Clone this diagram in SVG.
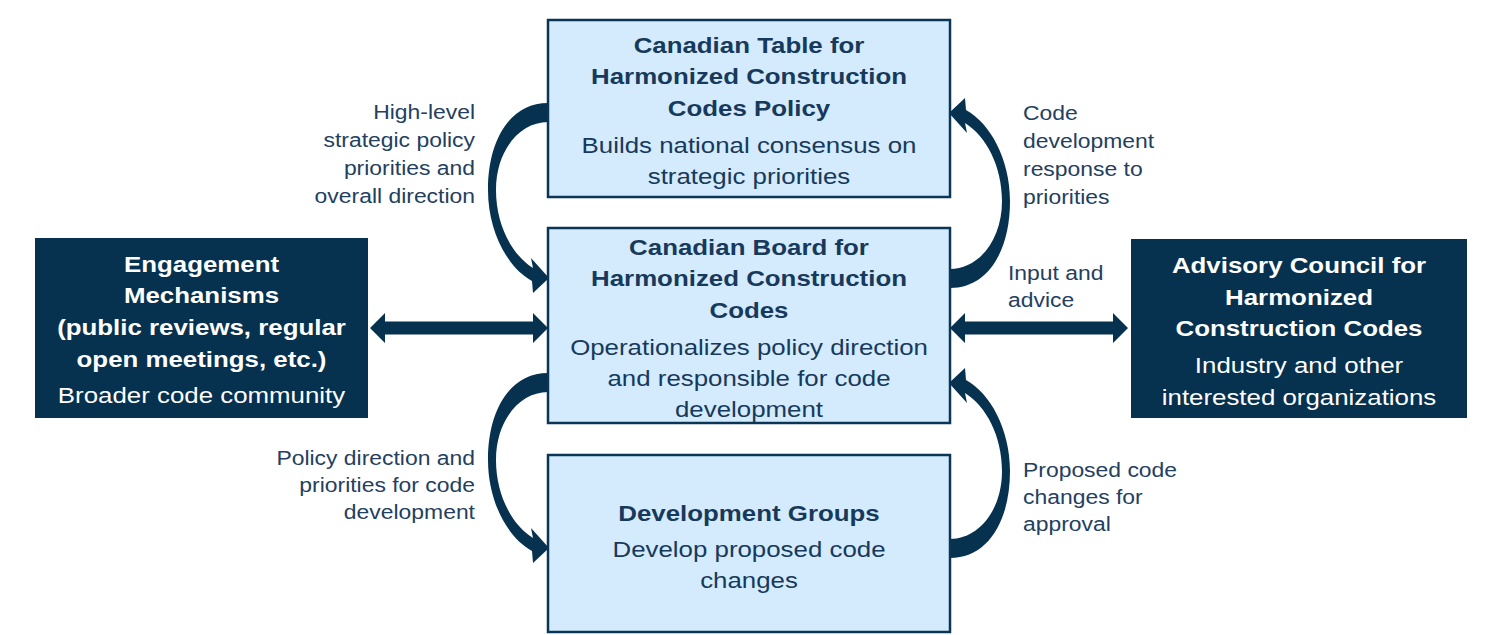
<svg xmlns="http://www.w3.org/2000/svg" width="1486" height="635" viewBox="0 0 1486 635">
<style>
.lb{fill:#d3ebfc;stroke:#0b3556;stroke-width:2.5}
.db{fill:#06314f}
.t{font-family:"Liberation Sans",Arial,sans-serif;font-size:22px;text-anchor:middle}
.b{font-weight:bold}
.dk{fill:#17395b}
.wh{fill:#ffffff}
.lab{font-family:"Liberation Sans",Arial,sans-serif;font-size:19.5px;fill:#24405f}
.arr{fill:#06314f}
</style>
<defs>
<path id="curv" d="M548,103 C510,103 488,140 488,190 C488,232 508,268 532,281 L533,293 L549,278 L531,258 L533,268 C512,255 496,225 496,190 C496,150 520,122 548,122 Z"/>
</defs>
<rect width="1486" height="635" fill="#ffffff"/>
<g id="connectors">
<use href="#curv" class="arr"/>
<use href="#curv" class="arr" transform="rotate(180 749 195.5)"/>
<use href="#curv" class="arr" transform="translate(0 270)"/>
<use href="#curv" class="arr" transform="translate(0 270) rotate(180 749 195.5)"/>
<path class="arr" d="M370,328 L385,313 L385,321.5 L533,321.5 L533,313 L548,328 L533,343 L533,334.5 L385,334.5 L385,343 Z"/>
<path class="arr" d="M950,328 L965,313 L965,321.5 L1113,321.5 L1113,313 L1128,328 L1113,343 L1113,334.5 L965,334.5 L965,343 Z"/>
<text class="lab" text-anchor="end" transform="translate(475 0) scale(1.175 1)"><tspan x="0" y="119">High-level</tspan><tspan x="0" y="147">strategic policy</tspan><tspan x="0" y="175">priorities and</tspan><tspan x="0" y="203">overall direction</tspan></text>
<text class="lab" transform="translate(1023 0) scale(1.175 1)"><tspan x="0" y="120">Code</tspan><tspan x="0" y="148">development</tspan><tspan x="0" y="176">response to</tspan><tspan x="0" y="204">priorities</tspan></text>
<text class="lab" transform="translate(1008 0) scale(1.175 1)"><tspan x="0" y="280">Input and</tspan><tspan x="0" y="307">advice</tspan></text>
<text class="lab" text-anchor="end" transform="translate(475 0) scale(1.175 1)"><tspan x="0" y="465">Policy direction and</tspan><tspan x="0" y="492">priorities for code</tspan><tspan x="0" y="519">development</tspan></text>
<text class="lab" transform="translate(1023 0) scale(1.175 1)"><tspan x="0" y="477">Proposed code</tspan><tspan x="0" y="504">changes for</tspan><tspan x="0" y="531">approval</tspan></text>
</g>
<g id="table">
<rect class="lb" x="548" y="20" width="402" height="177"/>
<text class="t dk" transform="translate(749 0) scale(1.175 1)"><tspan class="b" x="0" y="53">Canadian Table for</tspan><tspan class="b" x="0" y="84">Harmonized Construction</tspan><tspan class="b" x="0" y="116">Codes Policy</tspan><tspan x="0" y="153">Builds national consensus on</tspan><tspan x="0" y="184">strategic priorities</tspan></text>
</g>
<g id="board">
<rect class="lb" x="548" y="228" width="402" height="195"/>
<text class="t dk" transform="translate(749 0) scale(1.175 1)"><tspan class="b" x="0" y="255">Canadian Board for</tspan><tspan class="b" x="0" y="286">Harmonized Construction</tspan><tspan class="b" x="0" y="318">Codes</tspan><tspan x="0" y="355">Operationalizes policy direction</tspan><tspan x="0" y="386">and responsible for code</tspan><tspan x="0" y="417">development</tspan></text>
</g>
<g id="devgroups">
<rect class="lb" x="548" y="455" width="402" height="177"/>
<text class="t dk" transform="translate(749 0) scale(1.175 1)"><tspan class="b" x="0" y="521">Development Groups</tspan><tspan x="0" y="557">Develop proposed code</tspan><tspan x="0" y="588">changes</tspan></text>
</g>
<g id="engagement">
<rect class="db" x="35" y="238" width="333" height="180"/>
<text class="t wh" transform="translate(201.5 0) scale(1.175 1)"><tspan class="b" x="0" y="272">Engagement</tspan><tspan class="b" x="0" y="303">Mechanisms</tspan><tspan class="b" x="0" y="335">(public reviews, regular</tspan><tspan class="b" x="0" y="367">open meetings, etc.)</tspan><tspan x="0" y="403">Broader code community</tspan></text>
</g>
<g id="advisory">
<rect class="db" x="1131" y="239" width="336" height="179"/>
<text class="t wh" transform="translate(1299 0) scale(1.175 1)"><tspan class="b" x="0" y="273">Advisory Council for</tspan><tspan class="b" x="0" y="305">Harmonized</tspan><tspan class="b" x="0" y="336">Construction Codes</tspan><tspan x="0" y="373">Industry and other</tspan><tspan x="0" y="405">interested organizations</tspan></text>
</g>
</svg>
